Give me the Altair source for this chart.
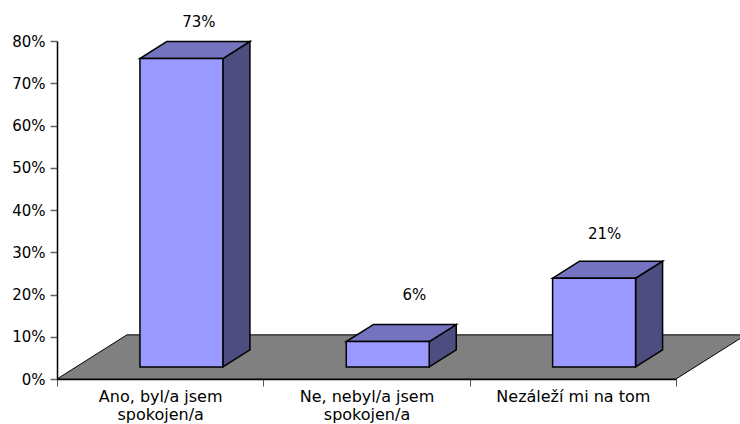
import altair as alt
import pandas as pd

# Survey answers and their shares
categories = ["Ano, byl/a jsem spokojen/a", "Ne, nebyl/a jsem spokojen/a", "Nezáleží mi na tom"]
axis_lines = [["Ano, byl/a jsem", "spokojen/a"], ["Ne, nebyl/a jsem", "spokojen/a"], ["Nezáleží mi na tom"]]
shares = [0.73, 0.06, 0.21]

# Pseudo-3D layout, in axis units (one category = 1 on x, a share on y)
FONT = "DejaVu Sans"
FONT_SIZE = 15
CATEGORY_FONT_SIZE = 16
BAR_LEFT = 0.402
BAR_WIDTH = 0.402
BAR_LIFT = 0.0285
BAR_DX = 0.131
BAR_DY = 0.0404
FLOOR_DX = 0.339
FLOOR_DY = 0.1045
LABEL_NUDGE = [(4, -19), (13, -30), (-3, -27)]

ticks = [0, 0.5, 1, 1.5, 2, 2.5, 3]
label_expr = "".join(
    f"datum.value == {i + 0.5} ? {lines!r} : " for i, lines in enumerate(axis_lines)
) + "''"

x_axis = alt.Axis(
    values=ticks, labelExpr=label_expr, grid=False, domainColor="#000000", domainWidth=1.5,
    tickColor="#555555", tickWidth=1,
    tickSize=alt.condition("datum.value % 1 == 0", alt.value(7), alt.value(0)),
    labelFont=FONT, labelFontSize=CATEGORY_FONT_SIZE, labelColor="#000000", labelPadding=9,
    labelAngle=0, labelOverlap=False, labelBound=False, labelFlush=False, labelLineHeight=18,
)
y_axis = alt.Axis(
    values=[v / 10 for v in range(9)], format=".0%", grid=False, domainColor="#000000", domainWidth=1.5,
    tickColor="#666666", tickSize=7, tickWidth=1.5,
    labelFont=FONT, labelFontSize=FONT_SIZE, labelColor="#000000", labelPadding=5,
)

x_scale = alt.Scale(domain=[0, 3], nice=False, zero=False)
y_scale = alt.Scale(domain=[0, 0.8], nice=False, zero=False)
X = alt.X("x:Q", scale=x_scale, axis=x_axis, title=None, stack=None)
Y = alt.Y("y:Q", scale=y_scale, axis=y_axis, title=None, stack=None)

fronts, tops, sides = [], [], []
for i, (name, share) in enumerate(zip(categories, shares)):
    left = i + BAR_LEFT
    right = left + BAR_WIDTH
    base = BAR_LIFT
    top = BAR_LIFT + share
    fronts.append({"name": name, "x": left, "x2": right, "y": base, "y2": top})
    tops.append({"name": name, "y": top, "x": left, "x2": right})
    tops.append({"name": name, "y": top + BAR_DY, "x": left + BAR_DX, "x2": right + BAR_DX})
    sides.append({"name": name, "x": right, "y": base, "y2": top})
    sides.append({"name": name, "x": right + BAR_DX, "y": base + BAR_DY, "y2": top + BAR_DY})

floor = pd.DataFrame([
    {"y": 0.0, "x": 0.0, "x2": 3.0},
    {"y": FLOOR_DY, "x": FLOOR_DX, "x2": 3.0 + FLOOR_DX},
])

floor_layer = alt.Chart(floor).mark_area(
    orient="horizontal", color="#808080", stroke="#000000", strokeWidth=1
).encode(x=X, x2="x2:Q", y=Y)

side_layer = alt.Chart(pd.DataFrame(sides)).mark_area(
    orient="vertical", color="#4D4D80", stroke="#000000", strokeWidth=1.5
).encode(x=X, y=Y, y2="y2:Q", detail="name:N")

top_layer = alt.Chart(pd.DataFrame(tops)).mark_area(
    orient="horizontal", color="#7373BF", stroke="#000000", strokeWidth=1.5
).encode(x=X, x2="x2:Q", y=Y, detail="name:N")

front_layer = alt.Chart(pd.DataFrame(fronts)).mark_rect(
    color="#9999FF", stroke="#000000", strokeWidth=1.5
).encode(x=X, x2="x2:Q", y=Y, y2="y2:Q")

# Value labels float above the back edge of each bar
value_layers = []
for i, (share, (dx, dy)) in enumerate(zip(shares, LABEL_NUDGE)):
    row = pd.DataFrame([{
        "x": i + BAR_LEFT + (BAR_WIDTH + BAR_DX) / 2,
        "y": BAR_LIFT + share + BAR_DY,
        "value": share,
    }])
    value_layers.append(
        alt.Chart(row).mark_text(
            font=FONT, fontSize=FONT_SIZE, color="#000000", dx=dx, dy=dy, baseline="middle"
        ).encode(x=X, y=Y, text=alt.Text("value:Q", format=".0%"))
    )

chart = alt.layer(floor_layer, side_layer, top_layer, front_layer, *value_layers).properties(
    width=619,
    height=338,
    padding={"left": 57, "top": 41, "right": 64, "bottom": 45},
    autosize=alt.AutoSizeParams(type="none"),
    background="#FFFFFF",
).configure_view(stroke=None)

chart.save("out.html", embed_options={"renderer": "svg", "actions": False})
